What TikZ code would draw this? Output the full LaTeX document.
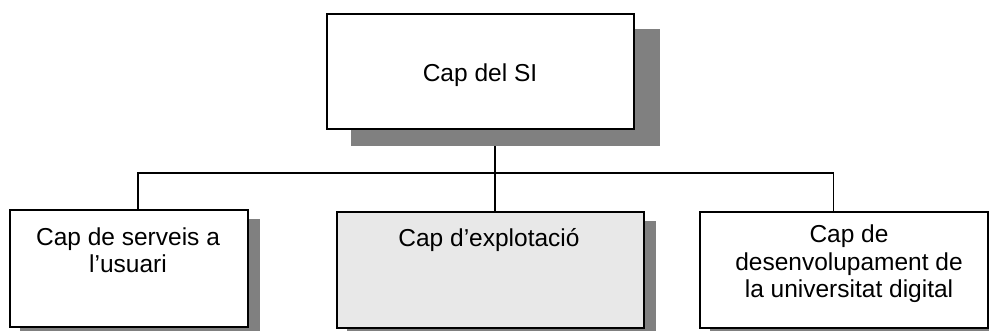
\documentclass[tikz,border=0pt]{standalone}
\usepackage{fontspec}
\setmainfont{Liberation Sans}
\definecolor{shadowgray}{HTML}{808080}
\definecolor{lightfill}{HTML}{E8E8E8}
\pgfdeclarelayer{lines}
\pgfdeclarelayer{shadows}
\pgfsetlayers{lines,shadows,main}
\begin{document}
\begin{tikzpicture}[x=1pt,y=-1pt,
  box/.style={draw=black, line width=1.6pt, fill=white, inner sep=0pt},
  shade/.style={fill=shadowgray, draw=none},
  conn/.style={draw=black, line width=1.2pt},
  lbl/.style={font=\fontsize{24.5}{27.5}\selectfont, align=center, inner sep=0pt, anchor=base}]
\useasboundingbox (0,0) rectangle (989,331);

% boxes
\node[box, minimum width=307pt, minimum height=115pt] (top) at (480.5,71.5) {};
\node[box, minimum width=238pt, minimum height=117pt] (b1) at (129,268.5) {};
\node[box, fill=lightfill, minimum width=307pt, minimum height=116pt] (b2) at (490.5,270) {};
\node[box, minimum width=288pt, minimum height=116pt] (b3) at (844,270) {};

% texts (base anchor = baseline of the last line)
\node[lbl] (ttop) at (480,82) {Cap del SI};
\node[lbl] (t1) at (128,273) {Cap de serveis a\\l’usuari};
\node[lbl] (t2) at (489,247) {Cap d’explotació};
\node[lbl] (t3) at (849,298) {Cap de\\desenvolupament de\\la universitat digital};

% shadows
\begin{pgfonlayer}{shadows}
  \fill[shade] ([shift={(25pt,-16pt)}]top.south west) rectangle ([shift={(25pt,-16pt)}]top.north east);
  \fill[shade] ([shift={(11pt,-10pt)}]b1.south west) rectangle ([shift={(11pt,-10pt)}]b1.north east);
  \fill[shade] ([shift={(11pt,-10pt)}]b2.south west) rectangle ([shift={(11pt,-10pt)}]b2.north east);
  \fill[shade] ([shift={(11pt,-10pt)}]b3.south west) rectangle ([shift={(11pt,-10pt)}]b3.north east);
\end{pgfonlayer}

% connectors
\coordinate (j) at (495,173);
\coordinate (jl) at (138,173);
\coordinate (jr) at (833.5,173);
\begin{pgfonlayer}{lines}
  \draw[conn] (top.south -| j) -- (j);
  \draw[conn] (b1.north -| jl) -- (jl) -- (jr) -- (b3.north -| jr);
  \draw[conn] (j) -- (b2.north -| j);
\end{pgfonlayer}
\end{tikzpicture}
\end{document}
